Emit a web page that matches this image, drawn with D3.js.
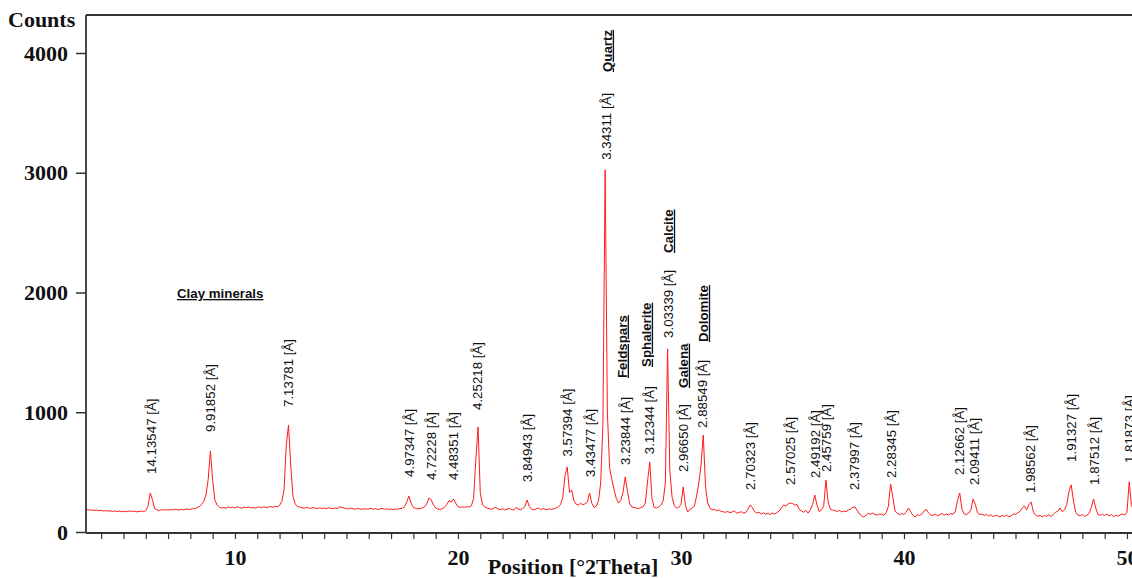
<!DOCTYPE html>
<html>
<head>
<meta charset="utf-8">
<script src="https://cdn.jsdelivr.net/npm/d3@7"></script>
<style>
  html, body { margin: 0; padding: 0; background: #fff; }
  svg { display: block; }
</style>
</head>
<body>
<div id="chart"></div>
<script>
// ---------------- DATA ----------------
// Scan: counts every 0.1 °2θ starting at 3.3 °2θ
const scanStart = 3.3;
const scanStep = 0.1;
const counts = [
  190,186,182,185,180,183,178,                      // 3.3-3.9
  181,176,179,174,177,172,176,171,175,170,          // 4
  174,169,173,176,170,174,168,172,175,171,          // 5
  178,215,325,270,195,185,180,186,182,187,          // 6
  182,188,184,190,186,183,189,185,192,188,          // 7
  190,195,193,205,212,228,255,310,440,677,          // 8
  430,265,225,208,200,205,198,210,203,207,          // 9
  200,212,205,198,208,203,210,201,206,199,          // 10
  205,209,202,211,204,208,212,206,215,210,          // 11
  222,255,350,720,894,560,300,235,212,208,          // 12
  203,198,206,201,197,204,199,195,202,197,          // 13
  200,195,203,198,194,201,196,210,205,199,          // 14
  196,192,199,194,190,197,193,189,195,191,          // 15
  194,198,190,195,188,193,197,190,194,188,          // 16
  192,187,193,189,196,198,210,250,300,240,          // 17
  205,198,192,196,200,210,235,284,270,225,          // 18
  200,192,188,195,205,230,262,250,276,240,          // 19
  212,205,210,206,212,208,218,280,600,877,          // 20
  330,225,210,200,195,190,198,205,192,187,          // 21
  193,185,190,196,188,183,205,192,186,195,          // 22
  215,267,212,190,185,193,200,188,195,190,          // 23
  186,195,189,194,200,210,228,290,470,543,          // 24
  330,351,260,232,225,240,228,235,250,326,          // 25
  240,205,215,260,409,900,3024,1000,535,440,        // 26
  351,280,242,265,330,460,340,235,209,205,          // 27
  200,195,205,210,240,420,585,280,205,200,          // 28
  210,225,260,409,1529,520,292,220,200,205,         // 29
  230,376,220,167,190,200,215,300,409,560,          // 30
  810,380,242,200,184,190,178,185,172,168,          // 31
  165,172,160,168,175,158,163,170,158,162,          // 32
  190,225,205,170,158,165,150,160,148,155,          // 33
  147,158,150,162,175,200,225,215,235,242,          // 34
  238,225,230,190,175,165,180,158,185,230,          // 35
  309,225,170,185,215,434,250,190,184,178,          // 36
  172,180,168,175,170,182,190,205,209,180,          // 37
  150,135,125,140,155,148,158,145,142,150,          // 38
  148,140,160,215,401,290,175,155,145,152,          // 39
  148,165,200,170,140,125,145,138,150,175,          // 40
  190,160,142,138,150,135,145,155,140,150,          // 41
  143,155,148,170,260,326,190,150,145,158,          // 42
  185,276,230,160,145,150,138,148,132,145,          // 43
  128,140,135,125,138,130,142,127,135,150,          // 44
  148,160,172,200,217,185,230,251,170,140,          // 45
  130,140,125,138,132,145,128,150,165,175,          // 46
  200,170,184,230,340,393,260,165,142,135,          // 47
  145,130,140,155,205,276,200,145,140,148,          // 48
  138,150,135,145,128,140,132,145,150,142,          // 49
  165,418,220,184                                   // 50.0-50.3
];

// Peak annotations: d-spacing text, position (°2θ), count at which label starts
const peakLabels = ["14.13547","9.91852","7.13781","4.97347","4.72228","4.48351","4.25218",
  "3.84943","3.57394","3.43477","3.34311","3.23844","3.12344","3.03339","2.96650","2.88549",
  "2.70323","2.57025","2.49192","2.45759","2.37997","2.28345","2.12662","2.09411","1.98562",
  "1.91327","1.87512","1.81873"];
const peakPositions = [6.25,8.91,12.39,17.82,18.78,19.79,20.87,
  23.09,24.89,25.92,26.64,27.52,28.56,29.42,30.10,30.97,
  33.11,34.88,36.01,36.53,37.77,39.43,42.47,43.17,45.65,
  47.48,48.51,50.12];
const peakLabelCounts = [485,835,1044,460,434,434,1019,
  418,630,460,3108,560,650,1621,501,869,
  351,393,451,501,351,451,476,393,326,
  585,393,576];

// Mineral annotations
const minerals = ["Quartz","Calcite","Feldspars","Sphalerite","Galena","Dolomite"];
const mineralPositions = [26.68,29.42,27.35,28.43,30.09,30.99];
const mineralCounts = [3841,2330,1286,1378,1203,1587];
const clayLabel = "Clay minerals";
const clayPosition = 7.40;
const clayCount = 1954;

// Axis ticks
const yTicks = [0,1000,2000,3000,4000];
const xLabelTicks = [10,20,30,40,50];

// ---------------- CHART ----------------
const W = 1132, H = 578;
const mLeft = 86, mRight = 1133, mTop = 15, mBottom = 533;

const svg = d3.select("#chart").append("svg")
  .attr("width", W).attr("height", H);

const x = d3.scaleLinear().domain([3.32, 50.27]).range([mLeft, mRight]);
const y = d3.scaleLinear().domain([0, 4000]).range([532, 53]);

const data = counts.map((c, i) => ({ t: scanStart + i * scanStep, c }));

// clip
svg.append("clipPath").attr("id", "clip")
  .append("rect").attr("x", mLeft).attr("y", mTop).attr("width", mRight - mLeft).attr("height", mBottom - mTop);

// trace
svg.append("path")
  .datum(data)
  .attr("clip-path", "url(#clip)")
  .attr("fill", "none")
  .attr("stroke", "#ff1a1a")
  .attr("stroke-width", 1)
  .attr("stroke-linejoin", "round")
  .attr("d", d3.line().x(d => x(d.t)).y(d => y(d.c)));

// axes
const axisColor = "#333";
const serif = "'Liberation Serif','Times New Roman',serif";
const sans = "'Liberation Sans',Arial,sans-serif";

const yAxis = svg.append("g")
  .attr("transform", `translate(${mLeft},0)`)
  .call(d3.axisLeft(y).tickValues(yTicks).tickSize(10).tickPadding(8).tickFormat(d3.format("d")));
yAxis.select(".domain").remove();
yAxis.selectAll(".tick line").attr("stroke", axisColor).attr("stroke-width", 1.5);
yAxis.selectAll(".tick text")
  .attr("font-family", serif).attr("font-size", 22).attr("font-weight", "bold").attr("fill", "#111");

const xAxis = svg.append("g")
  .attr("transform", `translate(0,${mBottom})`)
  .call(d3.axisBottom(x).tickValues(d3.range(4, 51)).tickSize(6).tickPadding(10)
    .tickFormat(d => xLabelTicks.includes(d) ? d : ""));
xAxis.select(".domain").remove();
xAxis.selectAll(".tick line").attr("stroke", axisColor).attr("stroke-width", 1.2);
xAxis.selectAll(".tick text")
  .attr("font-family", serif).attr("font-size", 22).attr("font-weight", "bold").attr("fill", "#111");

// frame lines (left, top, bottom)
svg.append("line").attr("x1", mLeft).attr("x2", mLeft).attr("y1", mTop).attr("y2", mBottom)
  .attr("stroke", axisColor).attr("stroke-width", 1.8);
svg.append("line").attr("x1", mLeft).attr("x2", W).attr("y1", mTop).attr("y2", mTop)
  .attr("stroke", axisColor).attr("stroke-width", 1.8);
svg.append("line").attr("x1", mLeft).attr("x2", W).attr("y1", mBottom).attr("y2", mBottom)
  .attr("stroke", axisColor).attr("stroke-width", 1.8);

// axis titles
svg.append("text").attr("x", 8).attr("y", 27)
  .attr("font-family", serif).attr("font-size", 22).attr("font-weight", "bold").attr("fill", "#111")
  .text("Counts");
svg.append("text").attr("x", 573).attr("y", 574).attr("text-anchor", "middle")
  .attr("font-family", serif).attr("font-size", 22).attr("font-weight", "bold").attr("fill", "#111")
  .text("Position [°2Theta]");

// peak labels
svg.append("g").selectAll("text")
  .data(peakLabels)
  .join("text")
  .attr("transform", (d, i) => `translate(${x(peakPositions[i])},${y(peakLabelCounts[i])}) rotate(-90)`)
  .attr("dy", "0.36em")
  .attr("font-family", sans).attr("font-size", 13.3).attr("fill", "#111")
  .text(d => d + " [Å]");

// mineral labels
svg.append("g").selectAll("text")
  .data(minerals)
  .join("text")
  .attr("transform", (d, i) => `translate(${x(mineralPositions[i])},${y(mineralCounts[i])}) rotate(-90)`)
  .attr("dy", "0.36em")
  .attr("font-family", sans).attr("font-size", 13.3).attr("font-weight", "bold").attr("fill", "#111")
  .attr("text-decoration", "underline")
  .text(d => d);

svg.append("text")
  .attr("x", x(clayPosition)).attr("y", y(clayCount))
  .attr("font-family", sans).attr("font-size", 13.3).attr("font-weight", "bold").attr("fill", "#111")
  .attr("text-decoration", "underline")
  .text(clayLabel);
</script>
</body>
</html>
